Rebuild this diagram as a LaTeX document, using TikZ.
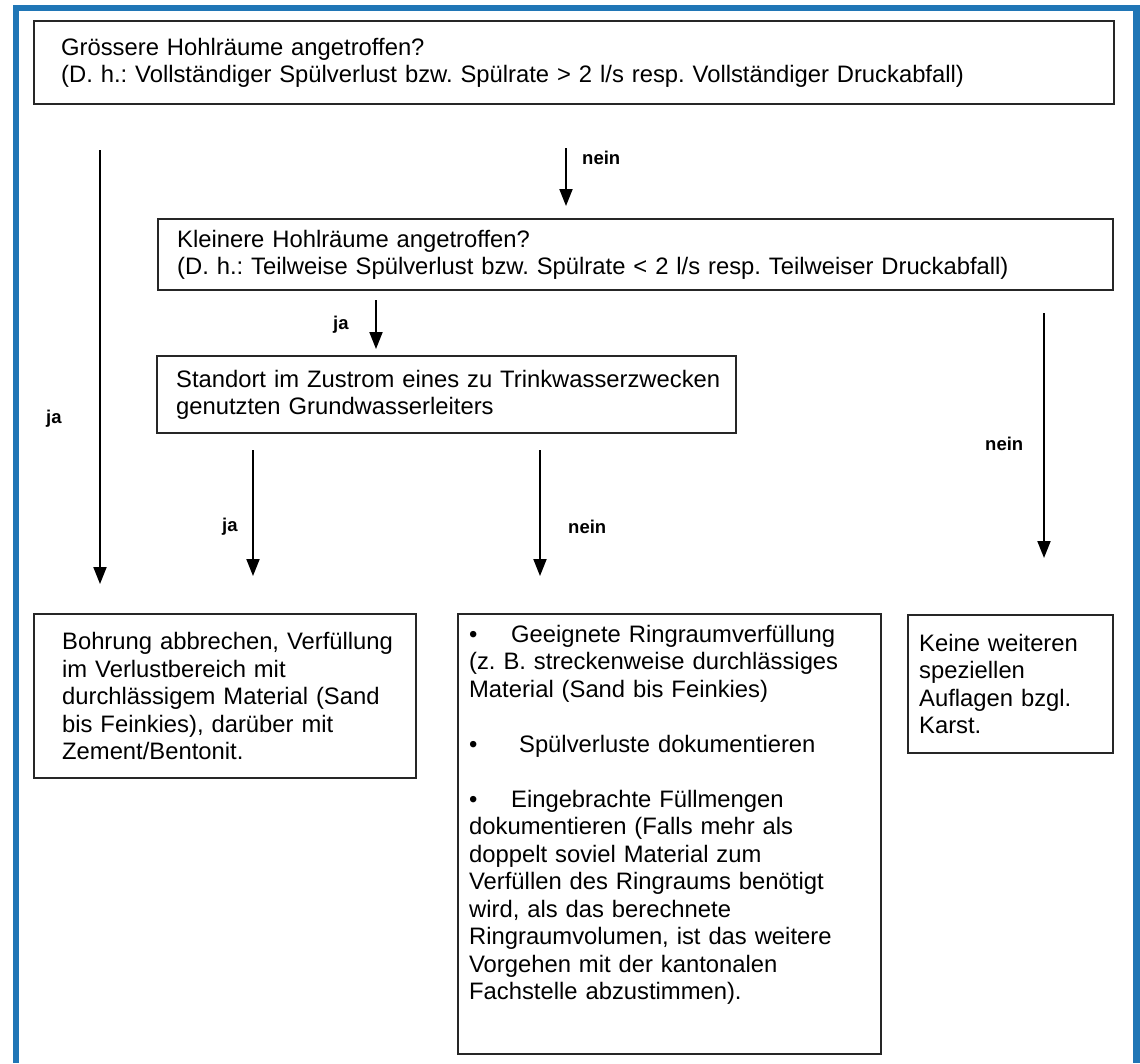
\documentclass[tikz,border=0pt]{standalone}
\usepackage{fontspec}
\setmainfont{Liberation Sans}
\usetikzlibrary{arrows.meta}
\definecolor{frameblue}{RGB}{32,118,182}
\newcommand{\boxfont}{\fontsize{23.8}{27.5}\selectfont\frenchspacing}
\newcommand{\lblfont}{\fontsize{18.5}{20}\selectfont\bfseries}
\newcommand{\tl}[1]{\mbox{#1}}
\begin{document}
\begin{tikzpicture}[x=1pt,y=1pt,
  fbox/.style={draw=black!85, line width=2.3pt, anchor=north west, align=left,
    inner ysep=0pt, font=\boxfont},
  arr/.style={line width=2pt, -{Triangle[length=17pt,width=13pt]}},
  lbl/.style={font=\lblfont, inner sep=0pt}]
\useasboundingbox (0,0) rectangle (1140,-1063);
\fill[white] (0,0) rectangle (1140,-1063);
% blue frame
\draw[frameblue, line width=6.5pt] (16,-1063) -- (16,-8) -- (1136.5,-8) -- (1136.5,-1063);

% boxes
\node[fbox, inner xsep=27pt, text width=1026pt, minimum height=83pt] (b1) at (33,-20)
  {\tl{Grössere Hohlräume angetroffen?}\\
   \tl{(D. h.: Vollständiger Spülverlust bzw. Spülrate > 2 l/s resp. Vollständiger Druckabfall)}};
\node[fbox, inner xsep=19pt, text width=917pt, minimum height=71pt] (b2) at (157,-218)
  {\tl{Kleinere Hohlräume angetroffen?}\\
   \tl{(D. h.: Teilweise Spülverlust bzw. Spülrate < 2 l/s resp. Teilweiser Druckabfall)}};
\node[fbox, inner xsep=19pt, text width=541pt, minimum height=77pt] (b3) at (156,-355)
  {\tl{Standort im Zustrom eines zu Trinkwasserzwecken}\\\tl{genutzten Grundwasserleiters}};
\node[fbox, inner xsep=28pt, text width=326pt, minimum height=164pt] (b4) at (33,-613)
  {\tl{Bohrung abbrechen, Verfüllung}\\\tl{im Verlustbereich mit}\\
   \tl{durchlässigem Material (Sand}\\\tl{bis Feinkies), darüber mit}\\\tl{Zement/Bentonit.}};
\node[fbox, inner xsep=11pt, text width=401pt, minimum height=440pt] (b5) at (457,-613)
  {\makebox[42pt][l]{•}\tl{Geeignete Ringraumverfüllung}\\
   \tl{(z. B. streckenweise durchlässiges}\\
   \tl{Material (Sand bis Feinkies)}\\[27.5pt]
   \makebox[50pt][l]{•}\tl{Spülverluste dokumentieren}\\[27.5pt]
   \makebox[42pt][l]{•}\tl{Eingebrachte Füllmengen}\\
   \tl{dokumentieren (Falls mehr als}\\
   \tl{doppelt soviel Material zum}\\
   \tl{Verfüllen des Ringraums benötigt}\\
   \tl{wird, als das berechnete}\\
   \tl{Ringraumvolumen, ist das weitere}\\
   \tl{Vorgehen mit der kantonalen}\\
   \tl{Fachstelle abzustimmen).}\\[16pt]\mbox{}};
\node[fbox, inner xsep=11pt, text width=183pt, minimum height=138pt] (b6) at (907,-614)
  {\tl{Keine weiteren}\\\tl{speziellen}\\\tl{Auflagen bzgl.}\\\tl{Karst.}};

% arrow end points
\coordinate (a1s) at (566,-148); \coordinate (a1e) at (566,-206);
\coordinate (a2s) at (100,-150); \coordinate (a2e) at (100,-584);
\coordinate (a3s) at (376,-300); \coordinate (a3e) at (376,-349);
\coordinate (a4s) at (253,-450); \coordinate (a4e) at (253,-576);
\coordinate (a5s) at (540,-450); \coordinate (a5e) at (540,-576);
\coordinate (a6s) at (1044,-313); \coordinate (a6e) at (1044,-558);

\draw[arr] (a1s) -- (a1e);
\draw[arr] (a2s) -- (a2e);
\draw[arr] (a3s) -- (a3e);
\draw[arr] (a4s) -- (a4e);
\draw[arr] (a5s) -- (a5e);
\draw[arr] (a6s) -- (a6e);

% labels
\node[lbl, anchor=west] (l1) at (582,-158) {nein};
\node[lbl, anchor=west] (l2) at (46,-419) {ja};
\node[lbl, anchor=west] (l3) at (333,-325) {ja};
\node[lbl, anchor=west] (l4) at (222,-527) {ja};
\node[lbl, anchor=west] (l5) at (568,-527) {nein};
\node[lbl, anchor=west] (l6) at (985,-444) {nein};
\end{tikzpicture}
\end{document}
